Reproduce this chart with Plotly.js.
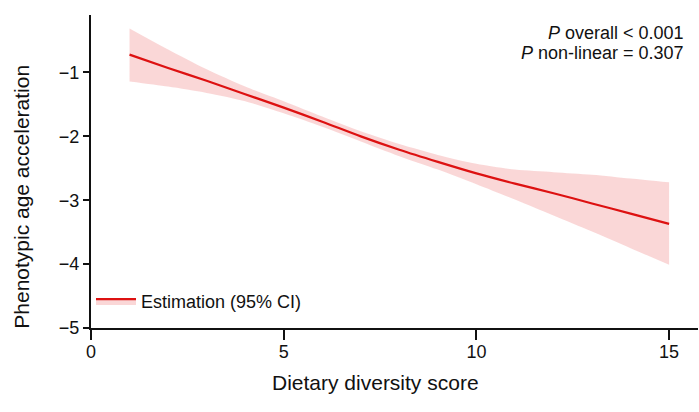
<!DOCTYPE html>
<html>
<head>
<meta charset="utf-8">
<script src="https://cdn.plot.ly/plotly-3.0.1.min.js"></script>
<style>html,body{margin:0;padding:0;background:#fff;}#chart{width:699px;height:412px;}</style>
</head>
<body>
<div id="chart"></div>
<script>
var xScore = [1,2,3,4,5,6,7,8,9,10,11,12,13,14,15];
var estimate = [-0.72,-0.93,-1.13,-1.34,-1.55,-1.77,-2.00,-2.21,-2.40,-2.58,-2.74,-2.89,-3.05,-3.21,-3.37];
var upperCI = [-0.31,-0.64,-0.95,-1.22,-1.45,-1.69,-1.92,-2.12,-2.29,-2.43,-2.52,-2.56,-2.60,-2.66,-2.72];
var lowerCI = [-1.14,-1.22,-1.32,-1.45,-1.64,-1.85,-2.08,-2.31,-2.52,-2.75,-2.99,-3.24,-3.49,-3.75,-4.01];
var xTicks = [0,5,10,15];
var yTicks = [-1,-2,-3,-4,-5];

var band = 'rgba(248,200,200,0.72)';
var red = '#dd1111';
var font = 'Liberation Sans, Arial, sans-serif';

var traces = [
  {x: xScore, y: lowerCI, mode: 'lines', line: {width: 0, color: band, shape: 'spline', smoothing: 0.8}, showlegend: false, hoverinfo: 'skip'},
  {x: xScore, y: estimate, mode: 'lines', name: 'Estimation (95% CI)', line: {color: red, width: 2.2, shape: 'spline', smoothing: 0.8},
   fill: 'tonexty', fillcolor: band},
  {x: xScore, y: upperCI, mode: 'lines', line: {width: 0, color: band, shape: 'spline', smoothing: 0.8}, fill: 'tonexty', fillcolor: band, showlegend: false, hoverinfo: 'skip'}
];

var layout = {
  width: 699, height: 412,
  margin: {l: 91, r: 1, t: 15, b: 84},
  paper_bgcolor: '#fff', plot_bgcolor: '#fff',
  font: {family: font, size: 18, color: '#111'},
  showlegend: true,
  legend: {x: 0.0, xanchor: 'left', y: 0.085, yanchor: 'middle', bgcolor: 'rgba(0,0,0,0)', itemwidth: 40, font: {size: 18, family: font}},
  xaxis: {range: [0, 15.75], tickvals: xTicks, ticks: 'outside', ticklen: 10, tickwidth: 2, tickcolor: '#111',
          showline: true, linewidth: 2, linecolor: '#111', showgrid: false, zeroline: false, ticklabelstandoff: -4,
          tickfont: {size: 18, family: font}},
  yaxis: {range: [-5, -0.1], tickvals: yTicks, ticks: 'outside', ticklen: 6, tickwidth: 2, tickcolor: '#111',
          showline: true, linewidth: 2, linecolor: '#111', showgrid: false, zeroline: false,
          tickfont: {size: 18, family: font}},
  annotations: [
    {xref: 'paper', yref: 'paper', x: 0.468, y: -0.175, xanchor: 'center', yanchor: 'middle', showarrow: false,
     text: 'Dietary diversity score', font: {size: 21, family: font}},
    {xref: 'paper', yref: 'paper', x: -0.115, y: 0.42, xanchor: 'center', yanchor: 'middle', showarrow: false, textangle: -90,
     text: 'Phenotypic age acceleration', font: {size: 21, family: font}},
    {xref: 'paper', yref: 'paper', x: 0.981, y: 0.9425, xanchor: 'right', yanchor: 'middle', showarrow: false,
     text: '<i>P</i> overall &lt; 0.001', font: {size: 18, family: font}},
    {xref: 'paper', yref: 'paper', x: 0.981, y: 0.8786, xanchor: 'right', yanchor: 'middle', showarrow: false,
     text: '<i>P</i> non-linear = 0.307', font: {size: 18, family: font}}
  ]
};

Plotly.newPlot('chart', traces, layout, {displayModeBar: false, staticPlot: true});
</script>
</body>
</html>
